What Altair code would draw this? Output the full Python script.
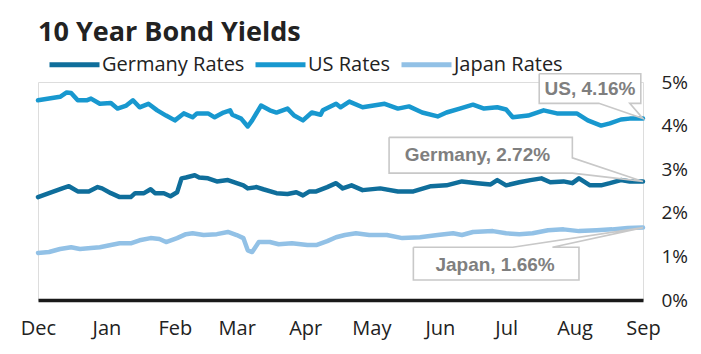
import altair as alt
import pandas as pd

# ---------------- data ----------------
series_names = ["Germany Rates", "US Rates", "Japan Rates"]
series_colors = ["#0f6e9b", "#1898cf", "#92c1e6"]

us_dates = ["2024-12-01", "2024-12-06", "2024-12-11", "2024-12-14", "2024-12-16", "2024-12-19",
            "2024-12-23", "2024-12-25", "2024-12-29", "2025-01-03", "2025-01-06", "2025-01-10",
            "2025-01-13", "2025-01-16", "2025-01-20", "2025-01-24", "2025-01-28", "2025-02-01",
            "2025-02-05", "2025-02-09", "2025-02-11", "2025-02-16", "2025-02-19", "2025-02-23",
            "2025-02-26", "2025-02-27", "2025-03-03", "2025-03-06", "2025-03-08", "2025-03-12",
            "2025-03-16", "2025-03-19", "2025-03-24", "2025-03-27", "2025-03-31", "2025-04-04",
            "2025-04-08", "2025-04-09", "2025-04-15", "2025-04-17", "2025-04-21", "2025-04-27",
            "2025-05-02", "2025-05-07", "2025-05-13", "2025-05-18", "2025-05-24", "2025-05-31",
            "2025-06-04", "2025-06-10", "2025-06-16", "2025-06-21", "2025-06-27", "2025-07-01",
            "2025-07-04", "2025-07-11", "2025-07-18", "2025-07-24", "2025-08-02", "2025-08-07",
            "2025-08-13", "2025-08-17", "2025-08-22", "2025-08-26", "2025-09-01"]
us_vals = [4.58, 4.62, 4.66, 4.76, 4.75, 4.58,
           4.58, 4.62, 4.50, 4.52, 4.39, 4.46,
           4.58, 4.42, 4.50, 4.35, 4.23, 4.12,
           4.28, 4.19, 4.28, 4.28, 4.19, 4.30,
           4.35, 4.25, 4.16, 3.98, 4.12, 4.46,
           4.35, 4.30, 4.39, 4.23, 4.12, 4.30,
           4.25, 4.35, 4.50, 4.42, 4.55, 4.42,
           4.46, 4.50, 4.39, 4.44, 4.30, 4.21,
           4.30, 4.39, 4.48, 4.39, 4.42, 4.37,
           4.19, 4.23, 4.35, 4.28, 4.28, 4.12,
           4.00, 4.05, 4.14, 4.16, 4.16]

de_dates = ["2024-12-01", "2024-12-06", "2024-12-12", "2024-12-15", "2024-12-19", "2024-12-24",
            "2024-12-28", "2024-12-30", "2025-01-03", "2025-01-07", "2025-01-12", "2025-01-14",
            "2025-01-18", "2025-01-21", "2025-01-23", "2025-01-27", "2025-01-30", "2025-02-02",
            "2025-02-04", "2025-02-06", "2025-02-10", "2025-02-12", "2025-02-16", "2025-02-20",
            "2025-02-25", "2025-03-01", "2025-03-04", "2025-03-06", "2025-03-10", "2025-03-13",
            "2025-03-19", "2025-03-24", "2025-03-28", "2025-03-31", "2025-04-03", "2025-04-06",
            "2025-04-11", "2025-04-15", "2025-04-18", "2025-04-22", "2025-04-27", "2025-05-05",
            "2025-05-13", "2025-05-20", "2025-05-28", "2025-06-04", "2025-06-11", "2025-06-18",
            "2025-06-24", "2025-06-27", "2025-07-01", "2025-07-07", "2025-07-12", "2025-07-17",
            "2025-07-21", "2025-07-27", "2025-07-31", "2025-08-03", "2025-08-08", "2025-08-13",
            "2025-08-17", "2025-08-22", "2025-08-26", "2025-09-01"]
de_vals = [2.36, 2.45, 2.56, 2.61, 2.49, 2.49,
           2.59, 2.56, 2.45, 2.36, 2.36, 2.45,
           2.45, 2.54, 2.45, 2.45, 2.38, 2.47,
           2.79, 2.81, 2.86, 2.81, 2.79, 2.72,
           2.75, 2.68, 2.63, 2.56, 2.59, 2.54,
           2.45, 2.43, 2.47, 2.40, 2.49, 2.49,
           2.59, 2.68, 2.56, 2.63, 2.52, 2.56,
           2.49, 2.49, 2.61, 2.63, 2.72, 2.68,
           2.65, 2.75, 2.63, 2.70, 2.75, 2.79,
           2.70, 2.72, 2.68, 2.79, 2.63, 2.63,
           2.68, 2.75, 2.72, 2.72]

jp_dates = ["2024-12-01", "2024-12-06", "2024-12-11", "2024-12-16", "2024-12-20", "2024-12-25",
            "2024-12-29", "2025-01-03", "2025-01-07", "2025-01-12", "2025-01-16", "2025-01-21",
            "2025-01-25", "2025-01-28", "2025-02-02", "2025-02-06", "2025-02-09", "2025-02-14",
            "2025-02-20", "2025-02-25", "2025-03-01", "2025-03-04", "2025-03-06", "2025-03-08",
            "2025-03-11", "2025-03-16", "2025-03-20", "2025-03-26", "2025-04-02", "2025-04-06",
            "2025-04-11", "2025-04-15", "2025-04-19", "2025-04-24", "2025-04-30", "2025-05-08",
            "2025-05-15", "2025-05-23", "2025-05-31", "2025-06-07", "2025-06-11", "2025-06-16",
            "2025-06-25", "2025-07-01", "2025-07-07", "2025-07-13", "2025-07-20", "2025-07-27",
            "2025-08-03", "2025-08-11", "2025-08-18", "2025-08-25", "2025-09-01"]
jp_vals = [1.08, 1.10, 1.17, 1.21, 1.17, 1.19,
           1.21, 1.26, 1.30, 1.30, 1.37, 1.42,
           1.40, 1.33, 1.42, 1.51, 1.53, 1.49,
           1.51, 1.56, 1.49, 1.42, 1.14, 1.10,
           1.33, 1.33, 1.28, 1.30, 1.26, 1.26,
           1.35, 1.44, 1.49, 1.53, 1.49, 1.49,
           1.42, 1.44, 1.49, 1.53, 1.49, 1.56,
           1.58, 1.53, 1.51, 1.53, 1.60, 1.62,
           1.58, 1.60, 1.62, 1.65, 1.66]

month_ticks = ["2024-12-01", "2025-01-01", "2025-02-01", "2025-03-01", "2025-04-01", "2025-05-01",
               "2025-06-01", "2025-07-01", "2025-08-01", "2025-09-01"]
pct_ticks = [0, 1, 2, 3, 4, 5]

# callout annotations: label, box (left, right, top, bottom), wedge, tip, text anchor
callout_labels = ["US, 4.16%", "Germany, 2.72%", "Japan, 1.66%"]
callout_tip_date = "2025-09-01"
callout_tip_vals = [4.16, 2.72, 1.66]
callout_left = ["2025-07-16", "2025-05-09", "2025-05-20"]
callout_right = ["2025-08-31", "2025-07-31", "2025-08-03"]
callout_top = [5.19, 3.73, 1.21]
callout_bottom = [4.51, 2.91, 0.46]
callout_text_date = ["2025-08-08", "2025-06-18", "2025-06-26"]
callout_text_val = [4.85, 3.33, 0.81]
# wedge attachment points on the box edge
us_wedge = [("2025-08-26", 4.51), ("2025-08-12", 4.51)]
de_wedge = [("2025-07-31", 3.26), ("2025-07-31", 2.91)]
jp_wedge = [("2025-07-04", 1.21), ("2025-07-22", 1.21)]

# ---------------- tables ----------------
rows = []
for name, ds, vs in zip(series_names, [de_dates, us_dates, jp_dates], [de_vals, us_vals, jp_vals]):
    for d, v in zip(ds, vs):
        rows.append({"date": d, "value": v, "series": name})
df = pd.DataFrame(rows)
df["date"] = pd.to_datetime(df["date"])

outline_rows = []
for k, lab in enumerate(callout_labels):
    L, R, T, B = callout_left[k], callout_right[k], callout_top[k], callout_bottom[k]
    tip = (callout_tip_date, callout_tip_vals[k])
    if k == 0:
        pts = [(L, T), (R, T), (R, B), us_wedge[0], tip, us_wedge[1], (L, B), (L, T)]
    elif k == 1:
        pts = [(L, T), (R, T), de_wedge[0], tip, de_wedge[1], (L, B), (L, T)]
    else:
        pts = [(L, T), jp_wedge[0], tip, jp_wedge[1], (R, T), (R, B), (L, B), (L, T)]
    for i, (d, v) in enumerate(pts):
        outline_rows.append({"callout": lab, "i": i, "date": d, "value": v})
outline_df = pd.DataFrame(outline_rows)
outline_df["date"] = pd.to_datetime(outline_df["date"])

box_df = pd.DataFrame({
    "callout": callout_labels,
    "left": pd.to_datetime(callout_left),
    "right": pd.to_datetime(callout_right),
    "top": callout_top,
    "bottom": callout_bottom,
    "tdate": pd.to_datetime(callout_text_date),
    "tval": callout_text_val,
})

# ---------------- chart ----------------
def dt(s):
    y, m, d = (int(p) for p in s.split("-"))
    return alt.DateTime(year=y, month=m, date=d)

x_scale = alt.Scale(domain=[dt(month_ticks[0]), dt(month_ticks[-1])], nice=False)
y_scale = alt.Scale(domain=[0, 5], nice=False)

x_enc = alt.X("date:T", scale=x_scale, title=None,
              axis=alt.Axis(values=[dt(s) for s in month_ticks], format="%b",
                            labelFlush=False, labelOverlap=False, labelBound=False,
                            ticks=False, grid=False, domain=True,
                            domainColor="#1a1a1a", domainWidth=3.5,
                            labelFont="Open Sans", labelFontSize=20, labelColor="#222222",
                            labelPadding=18))
y_enc = alt.Y("value:Q", scale=y_scale, title=None,
              axis=alt.Axis(orient="right", values=pct_ticks, labelExpr="datum.value + '%'",
                            ticks=False, grid=False, domain=False,
                            labelFont="Open Sans", labelFontSize=19, labelColor="#222222",
                            labelPadding=18))

lines = alt.Chart(df).mark_line(strokeWidth=4.5, strokeCap="round", strokeJoin="round").encode(
    x=x_enc,
    y=y_enc,
    color=alt.Color("series:N",
                    scale=alt.Scale(domain=series_names, range=series_colors),
                    sort=series_names,
                    legend=alt.Legend(orient="none", direction="horizontal", title=None,
                                      legendX=9, legendY=-45, padding=0,
                                      symbolType="stroke", symbolSize=2500, symbolStrokeWidth=5,
                                      labelFont="Open Sans", labelFontSize=20, labelColor="#222222",
                                      labelOffset=0, columnPadding=0)),
)

boxes = alt.Chart(box_df).mark_rect(fill="white").encode(
    x=alt.X("left:T", scale=x_scale), x2="right:T",
    y=alt.Y("top:Q", scale=y_scale), y2="bottom:Q",
)

outlines = alt.Chart(outline_df).mark_line(stroke="#c8c8c8", strokeWidth=1.6, strokeJoin="miter").encode(
    x=alt.X("date:T", scale=x_scale),
    y=alt.Y("value:Q", scale=y_scale),
    detail="callout:N",
    order="i:Q",
)

texts = alt.Chart(box_df).mark_text(font="Liberation Sans", fontSize=19, fontWeight="bold",
                                    color="#7f7f7f", align="center", baseline="middle").encode(
    x=alt.X("tdate:T", scale=x_scale),
    y=alt.Y("tval:Q", scale=y_scale),
    text="callout:N",
)

chart = alt.layer(lines, boxes, outlines, texts).properties(
    width=605, height=218,
    title=alt.TitleParams("10 Year Bond Yields", anchor="start", frame="group", font="Open Sans",
                          fontSize=27, fontWeight=700, color="#222222", offset=-10),
    autosize=alt.AutoSizeParams(type="none"),
    padding={"left": 38, "top": 82, "right": 58, "bottom": 54},
).configure_view(stroke=None).configure(background="white")

chart.save("out.html", embed_options={"renderer": "svg", "actions": False})
